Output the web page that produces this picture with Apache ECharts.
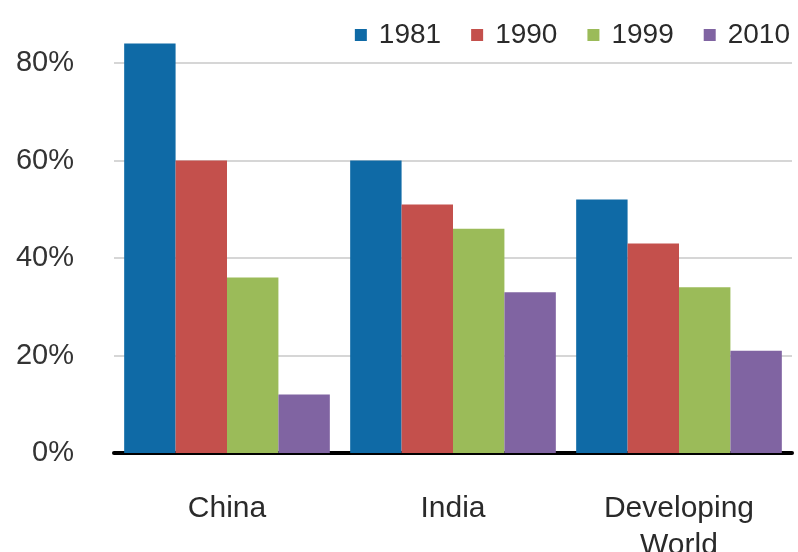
<!DOCTYPE html>
<html><head><meta charset="utf-8">
<script src="https://cdn.jsdelivr.net/npm/echarts@6/dist/echarts.min.js"></script>
<style>html,body{margin:0;padding:0;background:#fff}#c{width:798px;height:552px}</style>
</head><body><div id="c"></div>
<script>
const categories = ['China', 'India', 'Developing\nWorld'];
const years = ['1981', '1990', '1999', '2010'];
const v1981 = [84, 60, 52];
const v1990 = [60, 51, 43];
const v1999 = [36, 46, 34];
const v2010 = [12, 33, 21];
const yTicks = [0, 20, 40, 60, 80];
const colors = ['#0F6AA6', '#C4504C', '#9BBB59', '#8064A2'];
const values = [v1981, v1990, v1999, v2010];

const chart = echarts.init(document.getElementById('c'));
chart.setOption({
  animation: false,
  grid: { left: 114, right: 6, top: 63, bottom: 99, outerBoundsMode: 'none', containLabel: false },
  legend: {
    data: years,
    right: 3, top: 16,
    icon: 'rect', itemWidth: 12, itemHeight: 12, itemGap: 30,
    textStyle: { fontFamily: 'Liberation Sans, Arial', fontSize: 28, color: '#2a2a2a', padding: [0, 0, 0, 7] }
  },
  xAxis: {
    type: 'category', data: categories,
    axisLine: { lineStyle: { color: '#000', width: 4 } },
    axisTick: { show: false },
    axisLabel: { fontFamily: 'Liberation Sans, Arial', fontSize: 30, color: '#2a2a2a', margin: 37, lineHeight: 37 }
  },
  yAxis: {
    type: 'value', min: yTicks[0], max: yTicks[yTicks.length - 1], interval: 20,
    axisLine: { show: false }, axisTick: { show: false },
    axisLabel: { formatter: '{value}%', fontFamily: 'Liberation Sans, Arial', fontSize: 29, color: '#333', margin: 40 },
    splitLine: { lineStyle: { color: '#c8c8c8', width: 1.5 } }
  },
  series: years.map((y, i) => ({
    name: y, type: 'bar', data: values[i], clip: false,
    barGap: '0%', barCategoryGap: '9%',
    itemStyle: { color: colors[i] }
  }))
});
</script></body></html>
